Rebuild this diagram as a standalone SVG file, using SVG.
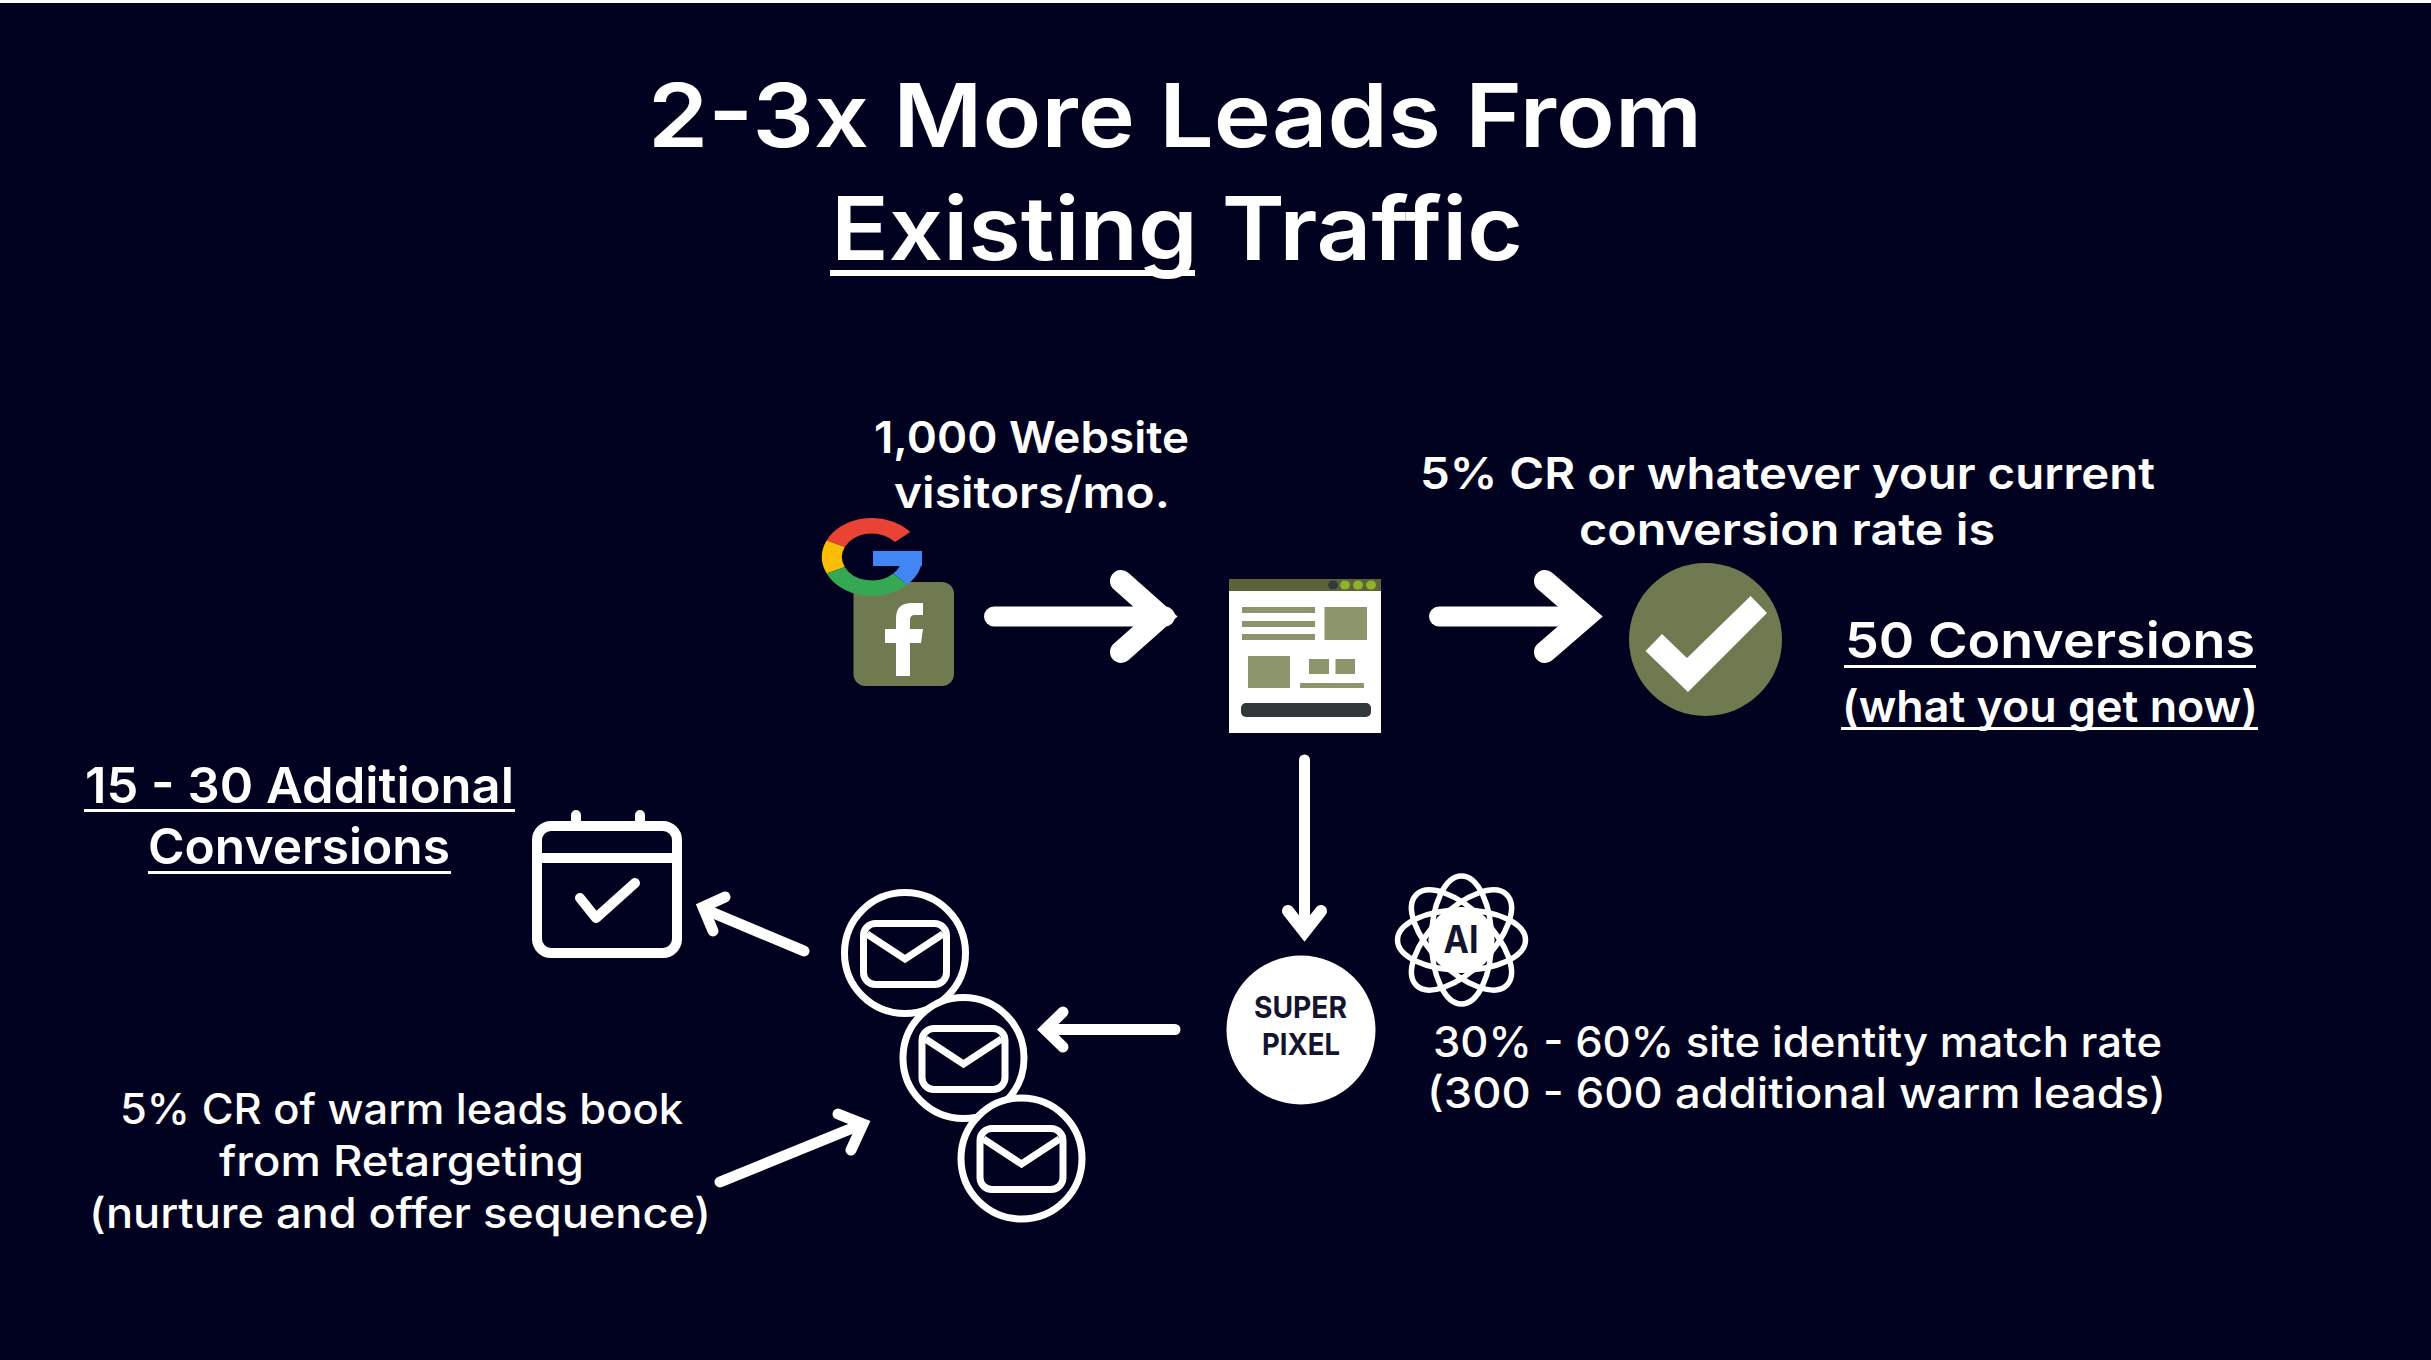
<svg xmlns="http://www.w3.org/2000/svg" width="2431" height="1360" viewBox="0 0 2431 1360">
<style>
text{font-family:"Inter","Noto Sans","Liberation Sans",sans-serif;fill:#fff;text-anchor:start}
.t{font-size:88px;font-weight:600}
.b{font-size:44px;font-weight:600}
.h{font-size:50px;font-weight:600}
.u{font-size:44px;font-weight:600}
.r{font-size:42px;font-weight:500}
.d{fill:#14142e;font-weight:700}
.ul{fill:#fff}
.conn{fill:none;stroke:#fff;stroke-linecap:round;stroke-linejoin:miter;stroke-miterlimit:6}
.pale{fill:#8c956b}
.line{fill:none;stroke:#fff;stroke-linecap:round;stroke-linejoin:round}
.mailc{fill:#01021f;stroke:#fff;stroke-width:7}
</style>
<defs>
<g id="env">
<rect x="-41.500" y="-30.500" width="83" height="61" rx="12" fill="none" stroke="#fff" stroke-width="7"/>
<path d="M-38 -20 L0 5 L38 -20" fill="none" stroke="#fff" stroke-width="7"/>
</g>
</defs>
<rect width="2431" height="1360" fill="#01021f"/>
<rect width="2431" height="3" fill="#fff"/>

<g id="title">
<text class="t" x="648" y="147" textLength="1054" lengthAdjust="spacingAndGlyphs">2-3x More Leads From</text>
<text class="t" x="831" y="260" textLength="692" lengthAdjust="spacingAndGlyphs">Existing Traffic</text>
<rect class="ul" x="830" y="270" width="365" height="6"/>
</g>

<g id="connectors">
<path class="conn" stroke-width="20" d="M994 616.500H1165"/>
<path class="conn" stroke-width="22" d="M1121 581L1161 616.500L1121 652"/>
<path class="conn" stroke-width="20" d="M1439 616.500H1575"/>
<path class="conn" stroke-width="22" d="M1545 581L1586 616.500L1545 652"/>
<path class="conn" stroke-width="11" d="M1304.500 760V928"/>
<path class="conn" stroke-width="12" d="M1288 911L1304.500 932L1321 911"/>
<path class="conn" stroke-width="11" d="M1175 1029.500H1050"/>
<path class="conn" stroke-width="11" d="M1063 1012L1045 1029.500L1063 1047"/>
<path class="conn" stroke-width="11" d="M804 951L704 909"/>
<path class="conn" stroke-width="11" d="M725 897L703 907L713 931"/>
<path class="conn" stroke-width="11" d="M720 1182L860 1125"/>
<path class="conn" stroke-width="11" d="M838 1114L863 1124L851 1150"/>
</g>

<g id="source-icons">
<rect x="853.500" y="582" width="100.500" height="104" rx="12" fill="#6f7a50"/>
<path fill="#fff" d="M896 676V643H885V629H896V618Q896 603 912 603H923V615H915Q910 615 910 620V629H923L921 643H910V676Z"/>
<g transform="translate(872 557) scale(1 .78)" fill="none" stroke-width="20">
<path stroke="#ea4335" d="M30.600 -25.700A40 40 0 0 0 -36.300 -16.900"/>
<path stroke="#fbbc05" d="M-36.300 -16.900A40 40 0 0 0 -36.300 16.900"/>
<path stroke="#34a853" d="M-36.300 16.900A40 40 0 0 0 28.300 28.300"/>
<path stroke="#4285f4" d="M28.300 28.300A40 40 0 0 0 40 -3"/>
</g>
<rect x="873" y="551" width="49" height="15" fill="#4285f4"/>
</g>

<g id="visitors-label">
<text class="b" x="874" y="453" textLength="315" lengthAdjust="spacingAndGlyphs">1,000 Website</text>
<text class="b" x="894" y="508" textLength="276" lengthAdjust="spacingAndGlyphs">visitors/mo.</text>
</g>

<g id="website">
<rect x="1229" y="579" width="152" height="154" fill="#fff"/>
<rect x="1229" y="579" width="152" height="12" fill="#5c6339"/>
<ellipse cx="1333" cy="585" rx="5" ry="4.500" fill="#33393a"/>
<ellipse cx="1345" cy="585" rx="5" ry="4.500" fill="#8db32a"/>
<ellipse cx="1358" cy="585" rx="5" ry="4.500" fill="#8db32a"/>
<ellipse cx="1371" cy="585" rx="5" ry="4.500" fill="#8db32a"/>
<rect class="pale" x="1242" y="607" width="73" height="6"/>
<rect class="pale" x="1242" y="621" width="73" height="6"/>
<rect class="pale" x="1242" y="634" width="73" height="6"/>
<rect class="pale" x="1324.500" y="607" width="42.500" height="33"/>
<rect class="pale" x="1248" y="656" width="42" height="32"/>
<rect class="pale" x="1309" y="659" width="20" height="15"/>
<rect class="pale" x="1335.500" y="659" width="19.500" height="15"/>
<rect class="pale" x="1300" y="683" width="64" height="5"/>
<rect x="1241" y="703" width="130" height="14" rx="5" fill="#33393a"/>
</g>

<g id="cr-label">
<text class="b" x="1420" y="489" textLength="735" lengthAdjust="spacingAndGlyphs">5% CR or whatever your current</text>
<text class="b" x="1579" y="545" textLength="416" lengthAdjust="spacingAndGlyphs">conversion rate is</text>
</g>

<g id="check">
<circle cx="1705.500" cy="639.500" r="76.500" fill="#6f7a50"/>
<path fill="#fff" d="M1645.500 651L1688 692L1767 613L1750.600 596L1687 658L1662 634Z"/>
</g>

<g id="conversions-now">
<text class="h" x="1845" y="658" textLength="410" lengthAdjust="spacingAndGlyphs">50 Conversions</text>
<rect class="ul" x="1844" y="665" width="412" height="3"/>
<text class="u" x="1842" y="722" textLength="416" lengthAdjust="spacingAndGlyphs">(what you get now)</text>
<rect class="ul" x="1841" y="727" width="417" height="3"/>
</g>

<g id="super-pixel">
<circle cx="1301" cy="1030" r="74.500" fill="#fff"/>
<text class="d" x="1254" y="1018" font-size="30" textLength="93" lengthAdjust="spacingAndGlyphs">SUPER</text>
<text class="d" x="1262" y="1055" font-size="30" textLength="78" lengthAdjust="spacingAndGlyphs">PIXEL</text>
</g>

<g id="ai-atom" transform="translate(1461.500 940)">
<g fill="none" stroke="#fff" stroke-width="5.500">
<ellipse rx="30" ry="64"/>
<ellipse rx="30" ry="64" transform="rotate(45)"/>
<ellipse rx="30" ry="64" transform="rotate(90)"/>
<ellipse rx="30" ry="64" transform="rotate(135)"/>
</g>
<circle r="33" fill="#fff"/>
<text class="d" x="-18" y="13" font-size="38" textLength="35" lengthAdjust="spacingAndGlyphs">AI</text>
</g>

<g id="match-label">
<text class="r" x="1433" y="1057" textLength="729" lengthAdjust="spacingAndGlyphs">30% - 60% site identity match rate</text>
<text class="r" x="1427" y="1108" textLength="739" lengthAdjust="spacingAndGlyphs">(300 - 600 additional warm leads)</text>
</g>

<g id="emails">
<circle class="mailc" cx="905" cy="953" r="60.500"/>
<use href="#env" x="905" y="954"/>
<circle class="mailc" cx="963.500" cy="1058" r="60.500"/>
<use href="#env" x="963.500" y="1059"/>
<circle class="mailc" cx="1021.500" cy="1158.500" r="60.500"/>
<use href="#env" x="1021.500" y="1159"/>
</g>

<g id="retargeting-label">
<text class="r" x="120" y="1124" textLength="563" lengthAdjust="spacingAndGlyphs">5% CR of warm leads book</text>
<text class="r" x="219" y="1176" textLength="365" lengthAdjust="spacingAndGlyphs">from Retargeting</text>
<text class="r" x="89" y="1228" textLength="622" lengthAdjust="spacingAndGlyphs">(nurture and offer sequence)</text>
</g>

<g id="calendar">
<rect x="537" y="826" width="140" height="127" rx="14" fill="none" stroke="#fff" stroke-width="10"/>
<path class="line" stroke-width="10" d="M537 858H677"/>
<path class="line" stroke-width="10" d="M576 815V826M640 815V826M580 898L596 918L635 883"/>
</g>

<g id="additional-label">
<text class="h" x="85" y="803" font-size="48" textLength="429" lengthAdjust="spacingAndGlyphs">15 - 30 Additional</text>
<rect class="ul" x="84" y="809" width="431" height="3"/>
<text class="h" x="148" y="864" font-size="48" textLength="302" lengthAdjust="spacingAndGlyphs">Conversions</text>
<rect class="ul" x="148" y="871" width="303" height="3"/>
</g>
</svg>
